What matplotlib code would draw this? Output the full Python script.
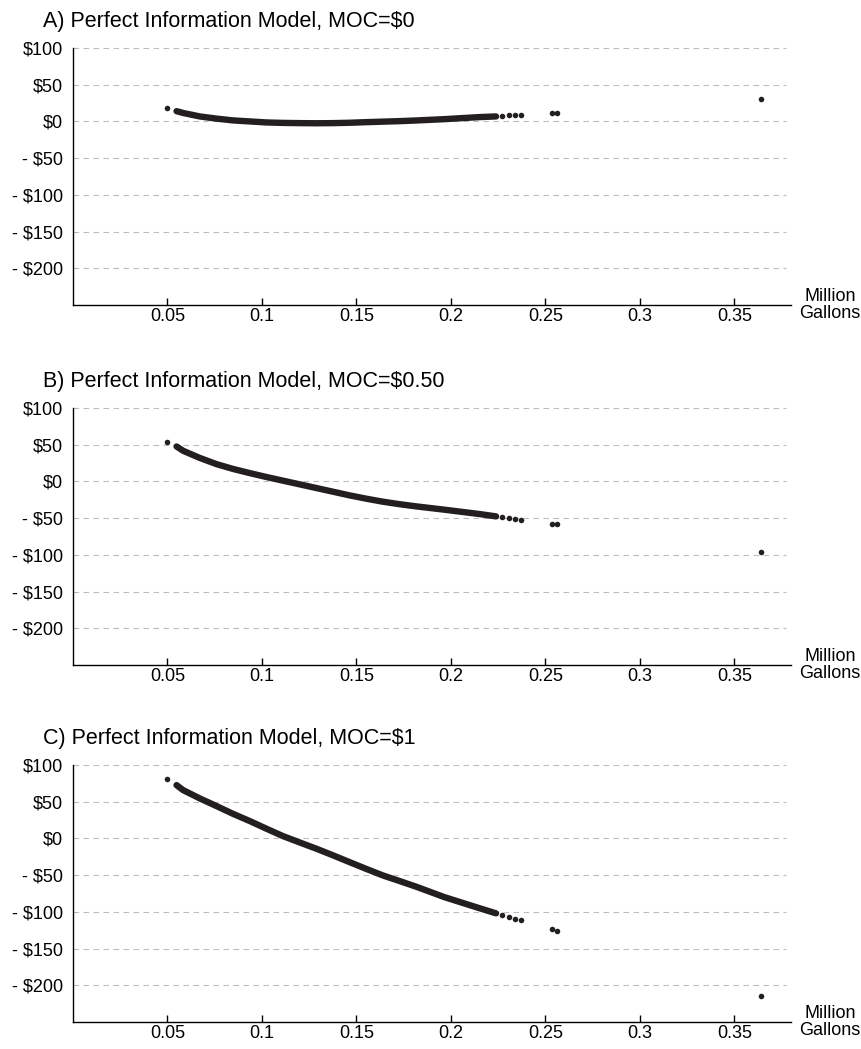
import numpy as np
import matplotlib
matplotlib.use('Agg')
import matplotlib.pyplot as plt

plt.rcParams['font.family'] = ['Liberation Sans', 'DejaVu Sans']

# gallons (millions) along the dense part of the scatter
gallons = [0.0548, 0.0583, 0.0671, 0.0760, 0.0847, 0.0936, 0.1024, 0.1112, 0.1200,
           0.1288, 0.1376, 0.1464, 0.1552, 0.1640, 0.1728, 0.1817, 0.1966, 0.2151, 0.2239]
# isolated points: first order, the sparse tail and the outlier
gallons_sparse = [0.0495, 0.2269, 0.2306, 0.2338, 0.2372, 0.2533, 0.2562, 0.3643]

value_moc0 = [14.0, 11.5, 6.8, 3.8, 1.4, 0.0, -1.4, -2.0, -2.3,
              -2.5, -2.3, -1.8, -1.0, -0.3, 0.4, 1.3, 3.1, 5.9, 6.8]
value_moc0_sparse = [18.7, 7.7, 8.2, 8.6, 9.1, 10.9, 11.6, 30.0]

value_moc050 = [47.6, 41.7, 32.0, 23.5, 17.0, 11.3, 6.0, 1.0, -4.0,
                -9.0, -14.0, -19.0, -23.5, -27.6, -31.0, -34.0, -38.5, -44.4, -47.6]
value_moc050_sparse = [53.4, -48.9, -50.3, -51.2, -52.6, -57.5, -58.4, -96.5]

value_moc1 = [72.6, 65.8, 54.5, 44.0, 33.5, 23.6, 13.2, 3.1, -5.5,
              -14.0, -23.0, -32.3, -41.5, -50.4, -58.0, -65.8, -80.0, -95.0, -102.0]
value_moc1_sparse = [81.3, -104.5, -107.6, -109.4, -111.7, -124.0, -126.7, -214.8]

titles = ['A) Perfect Information Model, MOC=$0',
          'B) Perfect Information Model, MOC=$0.50',
          'C) Perfect Information Model, MOC=$1']
y_ticks = [100, 50, 0, -50, -100, -150, -200]
y_labels = ['$100', '$50', '$0', '- $50', '- $100', '- $150', '- $200']
x_ticks = [0.05, 0.1, 0.15, 0.2, 0.25, 0.3, 0.35]
x_labels = ['0.05', '0.1', '0.15', '0.2', '0.25', '0.3', '0.35']

panels = [(value_moc0, value_moc0_sparse),
          (value_moc050, value_moc050_sparse),
          (value_moc1, value_moc1_sparse)]

W, H = 861, 1049
fig = plt.figure(figsize=(W / 100, H / 100), dpi=100)

dot_color = '#231f20'
ax_left, ax_right = 73, 791
tops = [48, 408, 765]
bottoms = [305, 665, 1022]

for i, (dense, sparse) in enumerate(panels):
    top, bottom = tops[i], bottoms[i]
    ax = fig.add_axes([ax_left / W, 1 - bottom / H, (ax_right - ax_left) / W, (bottom - top) / H])
    ax.set_xlim(0, 0.38)
    ax.set_ylim(-250, 100)

    ax.hlines(y_ticks, 0, 0.3775, colors='#bdbdbd', linewidth=0.8,
              linestyles=(0, (5, 4)), clip_on=False, zorder=1)

    # the dense run of points reads as one thick band
    ax.plot(gallons, dense, color=dot_color, linewidth=4.6, solid_capstyle='round',
            solid_joinstyle='round', zorder=3)
    ax.plot(gallons_sparse, sparse, linestyle='none', marker='o', markersize=4.0,
            markeredgewidth=0, color=dot_color, zorder=3)

    for side in ['top', 'right']:
        ax.spines[side].set_visible(False)
    for side in ['left', 'bottom']:
        ax.spines[side].set_linewidth(1.0)
        ax.spines[side].set_color('black')

    ax.set_yticks(y_ticks)
    ax.set_yticklabels(y_labels)
    ax.tick_params(axis='y', length=0, pad=7, labelsize=13)
    ax.set_xticks(x_ticks)
    ax.set_xticklabels(x_labels)
    ax.tick_params(axis='x', direction='in', length=5, width=1.0, pad=2, labelsize=13)

    fig.text(43 / W, 1 - (top - 21) / H, titles[i], fontsize=15.5, ha='left', va='baseline')
    fig.text(830 / W, 1 - bottom / H, 'Million\nGallons', fontsize=13, ha='center',
             va='center', linespacing=0.95)

fig.savefig('out.png', dpi=100, facecolor='white')
